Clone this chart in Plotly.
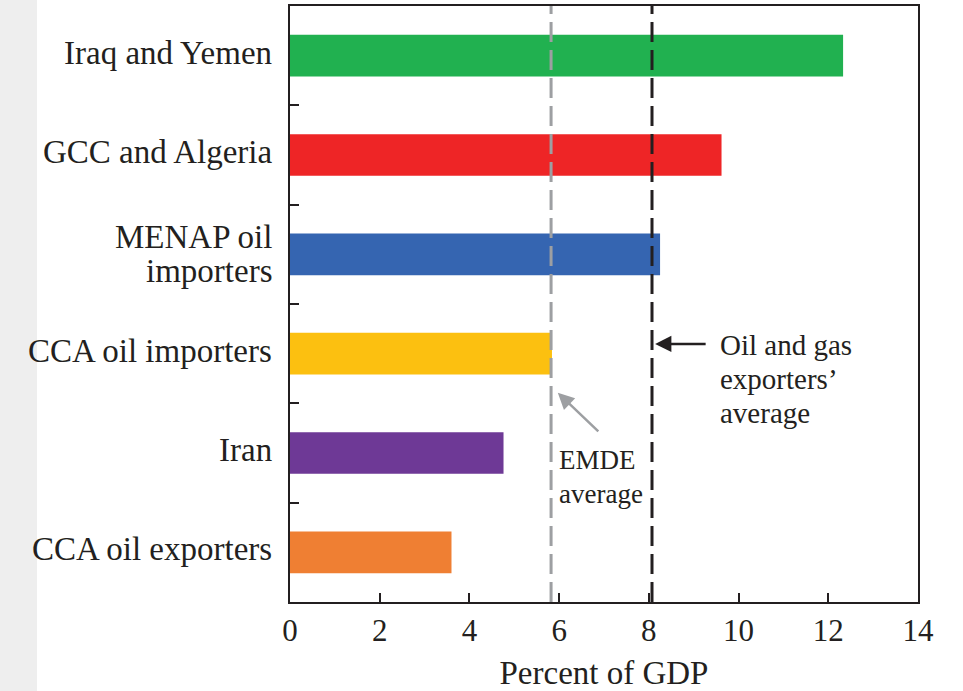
import plotly.graph_objects as go

categories = ["Iraq and Yemen", "GCC and Algeria", "MENAP oil<br>importers",
              "CCA oil importers", "Iran", "CCA oil exporters"]
values = [12.33, 9.62, 8.25, 5.84, 4.76, 3.6]
colors = ["#21b150", "#ee2526", "#3565b1", "#fcc010", "#6e3996", "#ef7f33"]
emde_avg = 5.82
oil_gas_avg = 8.07
x_ticks = [0, 2, 4, 6, 8, 10, 12, 14]

FONT = "Liberation Serif"
TXT = "#231f20"

fig = go.Figure()
fig.add_trace(go.Bar(
    x=values, y=categories, orientation="h",
    marker=dict(color=colors, line=dict(width=0)),
    width=0.42, showlegend=False, hoverinfo="skip",
))

# Category labels (annotations for tight line spacing)
for cat in categories:
    parts = cat.split("<br>")
    n = len(parts)
    for j, p in enumerate(parts):
        fig.add_annotation(x=0, y=cat, xref="paper", yref="y", text=p, showarrow=False,
                           xanchor="right", yanchor="middle", xshift=-16,
                           yshift=(n - 1) * 17 - 34 * j + (3 if n == 1 else 0),
                           font=dict(family=FONT, size=33, color=TXT))

# Reference lines
fig.add_shape(type="line", xref="x", yref="paper", x0=emde_avg, x1=emde_avg, y0=0, y1=1,
              line=dict(color="#9d9fa2", width=3, dash="20px,8px"), layer="above")
fig.add_shape(type="line", xref="x", yref="paper", x0=oil_gas_avg, x1=oil_gas_avg, y0=0, y1=1,
              line=dict(color="#231f20", width=3, dash="20px,8px"), layer="above")

# Gray left strip
fig.add_shape(type="rect", xref="paper", yref="paper", xsizemode="pixel", xanchor=0,
              x0=-295, x1=-253, y0=-0.2, y1=1.05, fillcolor="#eeeeee",
              line=dict(width=0), layer="below")

# Arrows
fig.add_annotation(x=8.14, y=0.433, xref="x", yref="paper", text="", showarrow=True,
                   ax=52, ay=0, arrowhead=2, arrowsize=1.3, arrowwidth=2.5,
                   arrowcolor="#231f20")
fig.add_annotation(x=5.97, y=0.351, xref="x", yref="paper", text="", showarrow=True,
                   ax=42, ay=40, arrowhead=2, arrowsize=1.3, arrowwidth=2.5,
                   arrowcolor="#9d9fa2")

# Annotation texts (one per line for spacing control)
oil_lines = ["Oil and gas", "exporters\u2019", "average"]
for i, t in enumerate(oil_lines):
    fig.add_annotation(x=9.55, y=(602 - (345 + 34 * i)) / 596, xref="x", yref="paper",
                       text=t, showarrow=False, xanchor="left", yanchor="middle",
                       font=dict(family=FONT, size=29, color=TXT))
emde_lines = ["EMDE", "average"]
for i, t in enumerate(emde_lines):
    fig.add_annotation(x=5.95, y=(602 - (460 + 34 * i)) / 596, xref="x", yref="paper",
                       text=t, showarrow=False, xanchor="left", yanchor="middle",
                       font=dict(family=FONT, size=27, color=TXT))

fig.update_layout(
    width=963, height=691,
    margin=dict(l=290, r=45, t=6, b=89),
    paper_bgcolor="white", plot_bgcolor="white",
    font=dict(family=FONT, size=32, color=TXT),
    bargap=0.58,
)
fig.update_xaxes(
    range=[0, 14], tickvals=x_ticks, ticktext=[str(v) for v in x_ticks],
    ticks="inside", ticklen=9, tickwidth=1.5, tickcolor="#231f20",
    showline=True, linecolor="#231f20", linewidth=2, mirror=True,
    showgrid=False, zeroline=False, automargin=False,
    title=dict(text="Percent of GDP", font=dict(family=FONT, size=33, color=TXT), standoff=21),
    tickfont=dict(family=FONT, size=31, color=TXT),
)
fig.update_yaxes(
    type="category", autorange="reversed", automargin=False,
    ticks="inside", ticklen=9, tickwidth=1.5, tickcolor="#231f20", tickson="boundaries",
    showline=True, linecolor="#231f20", linewidth=2, mirror=True,
    showgrid=False, zeroline=False, showticklabels=False,
)

fig.write_html("out.html", config={"displayModeBar": False},
               post_script="document.body.style.margin='0px';")
